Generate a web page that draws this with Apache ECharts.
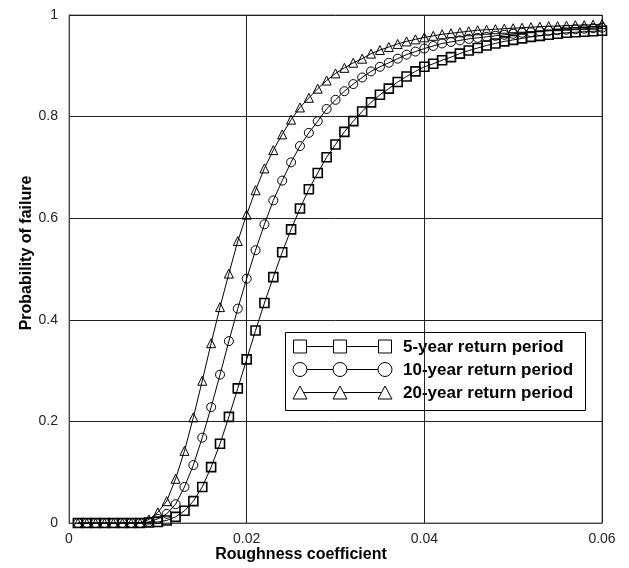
<!DOCTYPE html>
<html>
<head>
<meta charset="utf-8">
<script src="https://cdn.jsdelivr.net/npm/echarts@6/dist/echarts.min.js"></script>
<style>
html,body{margin:0;padding:0;background:#fff;}
#chart{width:629px;height:568px;}
</style>
</head>
<body>
<div id="chart"></div>
<script>
var roughness = [0.001,0.002,0.003,0.004,0.005,0.006,0.007,0.008,0.009,0.010,
  0.011,0.012,0.013,0.014,0.015,0.016,0.017,0.018,0.019,0.020,
  0.021,0.022,0.023,0.024,0.025,0.026,0.027,0.028,0.029,0.030,
  0.031,0.032,0.033,0.034,0.035,0.036,0.037,0.038,0.039,0.040,
  0.041,0.042,0.043,0.044,0.045,0.046,0.047,0.048,0.049,0.050,
  0.051,0.052,0.053,0.054,0.055,0.056,0.057,0.058,0.059,0.060];

var seriesNames = ['5-year return period','10-year return period','20-year return period'];

var p5 = [0,0,0,0,0,0,0,0,0.001,0.002,
  0.005,0.012,0.024,0.043,0.071,0.110,0.156,0.209,0.265,0.322,
  0.379,0.433,0.484,0.533,0.578,0.619,0.657,0.689,0.720,0.745,
  0.770,0.791,0.810,0.828,0.843,0.855,0.868,0.879,0.889,0.898,
  0.904,0.911,0.917,0.924,0.930,0.935,0.940,0.944,0.948,0.951,
  0.954,0.957,0.959,0.961,0.963,0.965,0.966,0.967,0.968,0.969];

var p10 = [0,0,0,0,0,0,0,0,0.002,0.008,
  0.018,0.037,0.071,0.114,0.168,0.228,0.292,0.358,0.422,0.481,
  0.537,0.588,0.635,0.674,0.710,0.742,0.768,0.791,0.815,0.833,
  0.850,0.864,0.877,0.889,0.898,0.906,0.914,0.922,0.928,0.934,
  0.939,0.944,0.947,0.950,0.953,0.955,0.957,0.959,0.961,0.963,
  0.965,0.966,0.968,0.969,0.970,0.971,0.972,0.973,0.974,0.975];

var p20 = [0,0,0,0,0,0,0,0,0.007,0.021,
  0.043,0.087,0.142,0.208,0.280,0.354,0.425,0.491,0.555,0.607,
  0.655,0.698,0.734,0.765,0.794,0.818,0.837,0.855,0.871,0.885,
  0.896,0.906,0.914,0.924,0.931,0.937,0.943,0.948,0.952,0.956,
  0.959,0.962,0.964,0.966,0.968,0.970,0.971,0.972,0.973,0.974,
  0.975,0.976,0.977,0.978,0.978,0.979,0.980,0.980,0.981,0.982];

var xTicks = [0, 0.02, 0.04, 0.06];
var yTicks = [0, 0.2, 0.4, 0.6, 0.8, 1];

function pairs(ys){ return roughness.map(function(x,i){ return [x, ys[i]]; }); }

function mkSeries(name, ys, symbol, size, bw){
  return {
    name: name, type: 'line', data: pairs(ys),
    symbol: symbol, symbolSize: size, showSymbol: true,
    lineStyle: {color: '#000', width: 1},
    itemStyle: {color: 'rgba(0,0,0,0)', borderColor: '#000', borderWidth: bw},
    emphasis: {disabled: true}, animation: false, z: 3
  };
}

var chart = echarts.init(document.getElementById('chart'), null, {renderer: 'canvas'});

var legendRows = [346, 369, 392];
var legendSyms = ['square','circle','triangle'];
var legendChildren = [{
  type: 'rect', shape: {x: 285.5, y: 332.5, width: 300, height: 78},
  style: {fill: '#fff', stroke: '#000', lineWidth: 1}
}];
legendRows.forEach(function(y, r){
  legendChildren.push({type:'line', shape:{x1:300, y1:y+0.5, x2:385, y2:y+0.5}, style:{stroke:'#000', lineWidth:1}});
  [300, 340, 385].forEach(function(cx){
    var s = legendSyms[r];
    if (s === 'square') legendChildren.push({type:'rect', shape:{x:cx-6.5, y:y-6, width:13, height:13}, style:{fill:'#fff', stroke:'#000', lineWidth:1}});
    else if (s === 'circle') legendChildren.push({type:'circle', shape:{cx:cx, cy:y+0.5, r:7}, style:{fill:'#fff', stroke:'#000', lineWidth:1}});
    else legendChildren.push({type:'polygon', shape:{points:[[cx, y-6],[cx-7, y+7],[cx+7, y+7]]}, style:{fill:'#fff', stroke:'#000', lineWidth:1}});
  });
  legendChildren.push({type:'text', x:403, y:y+1, style:{text: seriesNames[r], fill:'#000', font:'bold 17px "Liberation Sans", Arial, sans-serif', textVerticalAlign:'middle', verticalAlign:'middle'}});
});

chart.setOption({
  animation: false,
  backgroundColor: '#fff',
  grid: {left: 69, right: 27, top: 15, bottom: 45, show: true, borderColor: '#666', borderWidth: 1, containLabel: false},
  xAxis: {
    type: 'value', min: xTicks[0], max: xTicks[xTicks.length-1], interval: 0.02,
    axisLine: {show: true, lineStyle: {color: '#444', width: 1}},
    axisTick: {show: false},
    splitLine: {show: true, lineStyle: {color: '#222', width: 1}},
    axisLabel: {margin: 9, color: '#222', fontSize: 14, fontFamily: '"Liberation Sans", Arial, sans-serif',
      formatter: function(v){ return String(+v.toFixed(2)); }}
  },
  yAxis: {
    type: 'value', min: yTicks[0], max: yTicks[yTicks.length-1], interval: 0.2,
    axisLine: {show: true, lineStyle: {color: '#444', width: 1}},
    axisTick: {show: false},
    splitLine: {show: true, lineStyle: {color: '#222', width: 1}},
    axisLabel: {margin: 11, color: '#222', fontSize: 14, fontFamily: '"Liberation Sans", Arial, sans-serif',
      formatter: function(v){ return String(+v.toFixed(1)); }}
  },
  series: [
    mkSeries(seriesNames[0], p5, 'rect', 9, 1.6),
    mkSeries(seriesNames[1], p10, 'circle', 9, 1),
    mkSeries(seriesNames[2], p20, 'triangle', 9, 1)
  ],
  graphic: [
    {type: 'text', x: 301, y: 555, z: 10,
      style: {text: 'Roughness coefficient', fill: '#000', font: 'bold 16px "Liberation Sans", Arial, sans-serif', textAlign: 'center', textVerticalAlign: 'middle', align: 'center', verticalAlign: 'middle'}},
    {type: 'text', x: 27, y: 253, rotation: Math.PI/2, z: 10,
      style: {text: 'Probability of failure', fill: '#000', font: 'bold 16px "Liberation Sans", Arial, sans-serif', textAlign: 'center', textVerticalAlign: 'middle', align: 'center', verticalAlign: 'middle'}},
    {type: 'group', z: 20, children: legendChildren}
  ]
});
</script>
</body>
</html>
